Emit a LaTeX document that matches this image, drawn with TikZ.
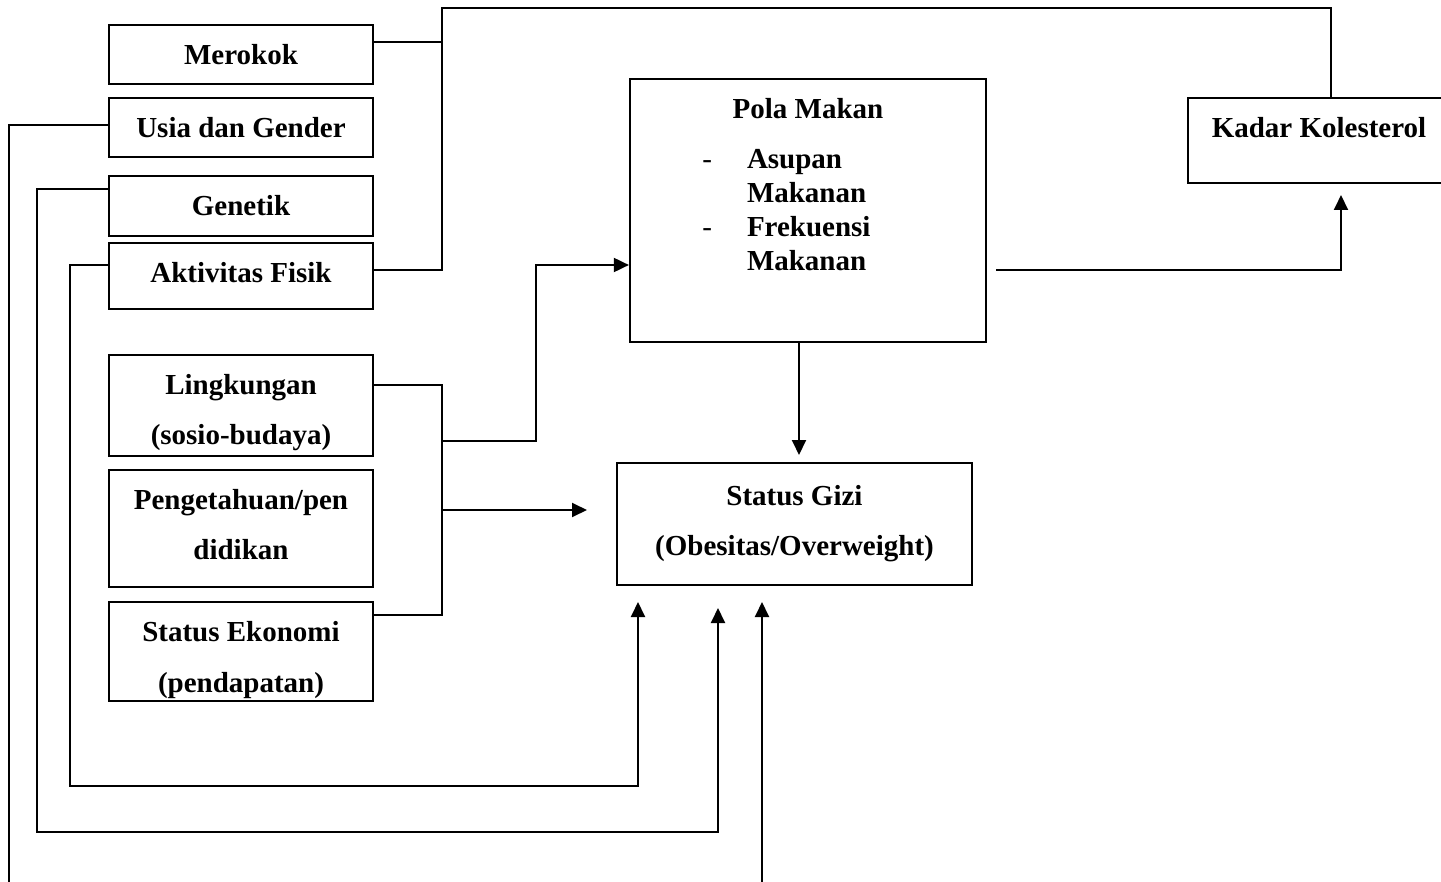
\documentclass[tikz,border=0pt]{standalone}
\usepackage{fontspec}
\setmainfont{Liberation Serif}
\usetikzlibrary{arrows.meta}

\tikzset{
  kotak/.style={draw, rectangle, line width=1.3pt, inner sep=0pt, align=center,
    font=\fontsize{16.5}{28.5}\selectfont\bfseries},
  teks/.style={inner sep=0pt, align=center, font=\fontsize{16.5}{28.5}\selectfont\bfseries},
  garis/.style={line width=1.1pt},
  panah/.style={line width=1.1pt, -{Triangle[length=0.3cm, width=0.28cm]}}
}

\begin{document}
\begin{tikzpicture}[x=0.02cm, y=-0.02cm]
\useasboundingbox (0,0) rectangle (1441,882);

% Faktor kiri atas
\node[kotak, minimum width=5.28cm, minimum height=1.18cm] (merokok) at (241,54.5) {Merokok};
\node[kotak, minimum width=5.28cm, minimum height=1.18cm] (usia) at (241,127.5) {Usia dan Gender};
\node[kotak, minimum width=5.28cm, minimum height=1.2cm] (genetik) at (241,206) {Genetik};
\node[kotak, minimum width=5.28cm, minimum height=1.32cm, text height=0.4cm, text depth=0.12cm] (aktivitas) at (241,276) {Aktivitas Fisik};

% Faktor kiri bawah
\node[kotak, minimum width=5.28cm, minimum height=2.02cm] (lingkungan) at (241,405.5) {};
\node[teks] (lingkungan-teks) at (241,412.5) {Lingkungan\\(sosio-budaya)};
\node[kotak, minimum width=5.28cm, minimum height=2.34cm] (pengetahuan) at (241,528.5) {};
\node[teks] (pengetahuan-teks) at (241,524.5) {Pengetahuan/pen\\didikan};
\node[kotak, minimum width=5.28cm, minimum height=1.98cm] (ekonomi) at (241,651.5) {};
\node[teks] (ekonomi-teks) at (241,660) {Status Ekonomi\\(pendapatan)};

% Pola makan
\node[kotak, minimum width=7.12cm, minimum height=5.26cm] (pola) at (808,210.5) {};
\node[font=\fontsize{16.5}{19.3}\selectfont\bfseries] (polajudul) at (808,109) {Pola Makan};
\node[anchor=base west, inner sep=0pt, font=\fontsize{16.5}{19.3}\selectfont\bfseries] (polaisi) at (702,169)
  {\begin{tabular}[t]{@{}l@{\hspace{0.7cm}}l@{}}
   \textmd{-} & Asupan\\
              & Makanan\\
   \textmd{-} & Frekuensi\\
              & Makanan
   \end{tabular}};

% Kadar kolesterol
\node[kotak, minimum width=5.24cm, minimum height=1.7cm, text height=0.4cm, text depth=0.5cm] (kadar) at (1319,140.5) {Kadar Kolesterol};

% Status gizi
\node[kotak, minimum width=7.1cm, minimum height=2.44cm] (gizi) at (794.5,524) {Status Gizi\\(Obesitas/Overweight)};

% Titik bantu
\coordinate (jtop) at (442,8);
\coordinate (jA) at (442,42);
\coordinate (jB) at (442,270);
\coordinate (kA) at (1331,8);
\coordinate (jC) at (442,385);
\coordinate (jD) at (442,615);
\coordinate (jE) at (442,441);
\coordinate (jF) at (442,510);
\coordinate (polain) at (536,265);
\coordinate (giziin) at (587,510);
\coordinate (pgx) at (799,455);
\coordinate (kB) at (996,270);
\coordinate (kC) at (1341,195);
\coordinate (uA) at (9,125);
\coordinate (uB) at (9,882);
\coordinate (gA) at (37,189);
\coordinate (gB) at (37,832);
\coordinate (gC) at (718,832);
\coordinate (gD) at (718,608);
\coordinate (aA) at (70,265);
\coordinate (aB) at (70,786);
\coordinate (aC) at (638,786);
\coordinate (aD) at (638,602);
\coordinate (bA) at (762,882);
\coordinate (bB) at (762,602);

% Merokok dan aktivitas ke kolesterol
\draw[garis] (merokok.east |- jA) -- (jA);
\draw[garis] (aktivitas.east |- jB) -- (jB) -- (jtop) -- (kA) -- (kA |- kadar.north);

% Lingkungan, pengetahuan, ekonomi
\draw[garis] (lingkungan.east |- jC) -- (jC) -- (jD) -- (ekonomi.east |- jD);
\draw[panah] (jE) -| (polain) -- (polain -| pola.west);
\draw[panah] (jF) -- (giziin);

% Pola makan ke status gizi dan kolesterol
\draw[panah] (pgx |- pola.south) -- (pgx);
\draw[panah] (kB) -| (kC);

% Jalur kiri
\draw[garis] (usia.west |- uA) -- (uA) -- (uB);
\draw[panah] (genetik.west |- gA) -- (gA) -- (gB) -- (gC) -- (gD);
\draw[panah] (aktivitas.west |- aA) -- (aA) -- (aB) -- (aC) -- (aD);
\draw[panah] (bA) -- (bB);
\end{tikzpicture}
\end{document}
